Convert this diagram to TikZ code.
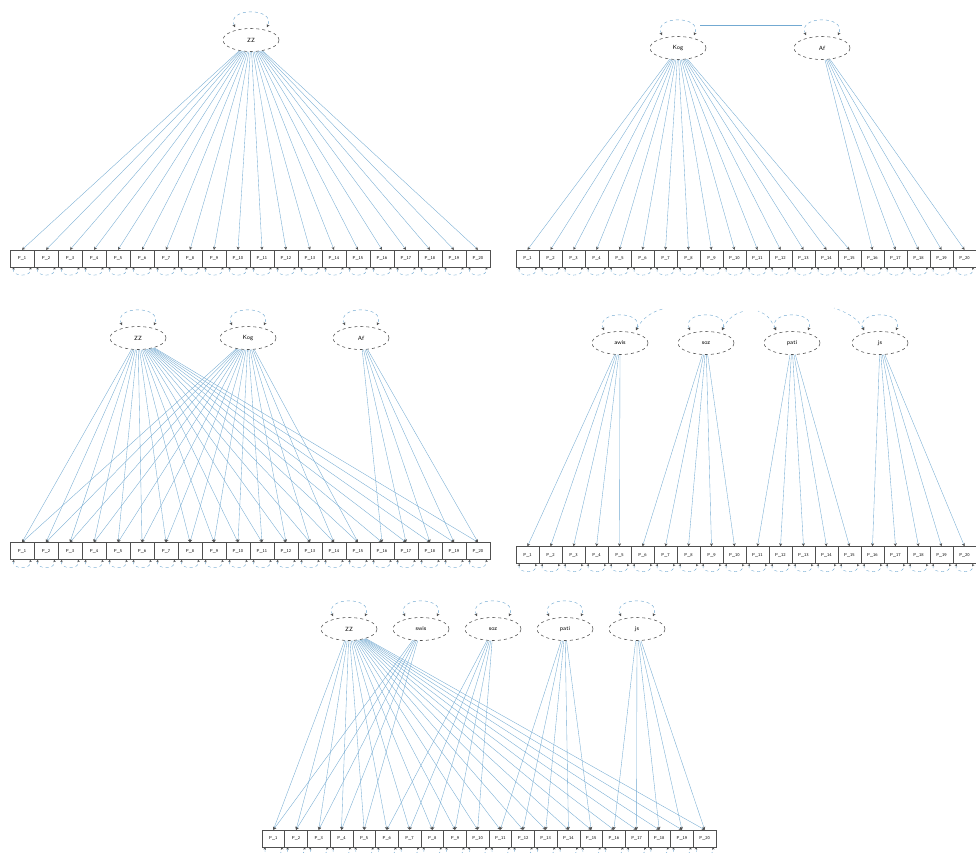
\documentclass[tikz,border=0pt]{standalone}
\usetikzlibrary{shapes.geometric,arrows.meta}
\definecolor{lblue}{RGB}{115,170,210}
\definecolor{dgray}{RGB}{80,80,80}
\begin{document}
\begin{tikzpicture}[x=1pt,y=-1pt,
  lat/.style={ellipse, draw=dgray, dashed, line width=0.55pt, minimum width=56pt, minimum height=23pt, inner sep=0pt, font=\fontsize{6}{6}\selectfont\sffamily},
  ind/.style={rectangle, draw=dgray, line width=0.45pt, minimum width=#1, minimum height=17pt, inner sep=0pt, font=\fontsize{4.3}{4.3}\selectfont\sffamily},
  load/.style={draw=lblue, line width=0.35pt, -{Stealth[length=3pt,width=3pt,color=dgray]}},
  var/.style={draw=lblue, dashed, line width=0.45pt, {Stealth[length=3pt,width=3pt,color=dgray]}-{Stealth[length=3pt,width=3pt,color=dgray]}},
  res/.style={draw=lblue, dashed, line width=0.4pt, {Stealth[length=2.5pt,width=2.5pt,color=dgray]}-{Stealth[length=2.5pt,width=2.5pt,color=dgray]}},
  cov/.style={draw=lblue, dashed, line width=0.4pt},
  covline/.style={draw=lblue, line width=0.45pt},
  covtip/.style={{Stealth[length=3pt,width=3pt,color=dgray]}-}
]
\useasboundingbox[fill=white] (0,0) rectangle (976,852);

% ---------- Panel 1 ----------
\node[lat] (p1ZZ) at (251,40) {ZZ};
\foreach \i in {1,...,20} \node[ind=24pt] (p1b\i) at ({10+(\i-0.5)*24},258.5) {P\_\i};
\foreach \i in {1,...,20} \draw[load] (p1ZZ) -- (p1b\i.north);

% ---------- Panel 2 ----------
\node[lat] (p2Kog) at (678,48) {Kog};
\node[lat] (p2Af) at (822,48) {Af};
\foreach \i in {1,...,20} \node[ind=23pt] (p2b\i) at ({516+(\i-0.5)*23},258.5) {P\_\i};
\foreach \i in {1,...,15} \draw[load] (p2Kog) -- (p2b\i.north);
\foreach \i in {16,...,20} \draw[load] (p2Af) -- (p2b\i.north);
\draw[covline] ([xshift=22pt,yshift=11pt]p2Kog.north) -- ([xshift=-20pt,yshift=11pt]p2Af.north);

% ---------- Panel 3 ----------
\node[lat] (p3ZZ) at (138,338) {ZZ};
\node[lat] (p3Kog) at (248,338) {Kog};
\node[lat] (p3Af) at (361,338) {Af};
\foreach \i in {1,...,20} \node[ind=24pt] (p3b\i) at ({10+(\i-0.5)*24},551) {P\_\i};
\foreach \i in {1,...,20} \draw[load] (p3ZZ) -- (p3b\i.north);
\foreach \i in {1,...,15} \draw[load] (p3Kog) -- (p3b\i.north);
\foreach \i in {16,...,20} \draw[load] (p3Af) -- (p3b\i.north);

% ---------- Panel 4 ----------
\node[lat] (p4awis) at (620,343) {awis};
\node[lat] (p4soz) at (706,343) {soz};
\node[lat] (p4pati) at (792,343) {pati};
\node[lat] (p4js) at (880,343) {js};
\foreach \i in {1,...,20} \node[ind=23pt] (p4b\i) at ({516+(\i-0.5)*23},555) {P\_\i};
\foreach \i in {1,...,5} \draw[load] (p4awis) -- (p4b\i.north);
\foreach \i in {6,...,10} \draw[load] (p4soz) -- (p4b\i.north);
\foreach \i in {11,...,15} \draw[load] (p4pati) -- (p4b\i.north);
\foreach \i in {16,...,20} \draw[load] (p4js) -- (p4b\i.north);
\coordinate (c4a) at (663,309);
\coordinate (c4b) at (745,311);
\coordinate (c4c) at (758,311);
\coordinate (c4d) at (834,308);
\draw[cov, covtip] ([xshift=16pt,yshift=1pt]p4awis.north) .. controls +(6pt,12pt) and +(-10pt,-2pt) .. (c4a);
\draw[cov, covtip] ([xshift=16pt,yshift=1pt]p4soz.north) .. controls +(6pt,12pt) and +(-10pt,-2pt) .. (c4b);
\draw[cov, covtip] ([xshift=-16pt,yshift=1pt]p4pati.north) .. controls +(-6pt,12pt) and +(10pt,-4pt) .. (c4c);
\draw[cov, covtip] ([xshift=-16pt,yshift=1pt]p4js.north) .. controls +(-6pt,12pt) and +(12pt,-4pt) .. (c4d);

% ---------- Panel 5 ----------
\node[lat] (p5ZZ) at (349,629) {ZZ};
\node[lat] (p5swis) at (421,629) {swis};
\node[lat] (p5soz) at (493,629) {soz};
\node[lat] (p5pati) at (565,629) {pati};
\node[lat] (p5js) at (637,629) {js};
\foreach \i in {1,...,20} \node[ind=22.7pt] (p5b\i) at ({262+(\i-0.5)*22.7},838.5) {P\_\i};
\foreach \i in {1,...,20} \draw[load] (p5ZZ) -- (p5b\i.north);
\foreach \i in {1,...,5} \draw[load] (p5swis) -- (p5b\i.north);
\foreach \i in {6,...,10} \draw[load] (p5soz) -- (p5b\i.north);
\foreach \i in {11,...,15} \draw[load] (p5pati) -- (p5b\i.north);
\foreach \i in {16,...,20} \draw[load] (p5js) -- (p5b\i.north);

% ---------- variance loops on latents ----------
\foreach \n in {p1ZZ,p2Kog,p2Af,p3ZZ,p3Kog,p3Af,p4awis,p4soz,p4pati,p4js,p5ZZ,p5swis,p5soz,p5pati,p5js}
  \draw[var] ([xshift=-16pt,yshift=1pt]\n.north) .. controls +(-9pt,20pt) and +(9pt,20pt) .. ([xshift=16pt,yshift=1pt]\n.north);

% ---------- residual loops on indicators ----------
\foreach \p in {p1,p2,p3,p4,p5}
  \foreach \i in {1,...,20}
    \draw[res] ([xshift=-8pt]\p b\i.south) .. controls +(-3pt,-10pt) and +(3pt,-10pt) .. ([xshift=8pt]\p b\i.south);
\end{tikzpicture}
\end{document}
